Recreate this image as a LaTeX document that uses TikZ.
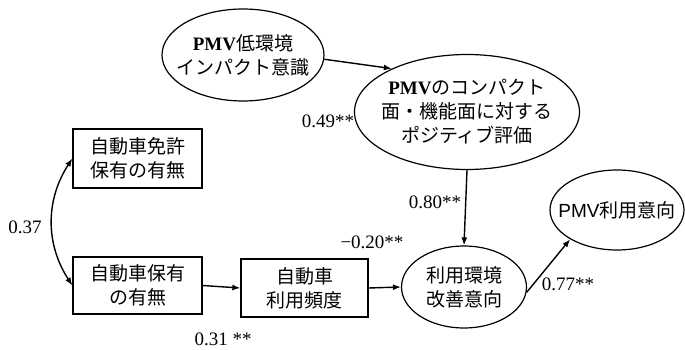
\documentclass[tikz,border=0pt]{standalone}
\usepackage{fontspec}
\setmainfont{Liberation Serif}
\newfontfamily\jp{Noto Sans CJK JP}
\newfontfamily\arialf{Liberation Sans}
\usetikzlibrary{shapes.geometric,arrows.meta}
\begin{document}
\begin{tikzpicture}[x=1pt,y=-1pt,
  every node/.style={font=\fontsize{19}{24}\selectfont},
  box/.style={draw,line width=1.3pt,rectangle,align=center,inner sep=0pt},
  oval/.style={draw,line width=1.2pt,ellipse,align=center,inner ysep=0pt},
  arr/.style={line width=1.4pt,-{Latex[length=8pt,width=6pt]}},
  darr/.style={line width=1.4pt,{Latex[length=8pt,width=6pt]}-{Latex[length=8pt,width=6pt]}},
  lab/.style={inner sep=0pt}]
\useasboundingbox (0,0) rectangle (685,350);
\node[oval,inner xsep=-12pt,minimum width=162pt,minimum height=92pt] (e1) at (243,55)
  {{\bfseries PMV}{\jp 低環境}\\{\jp インパクト意識}};
\node[oval,inner xsep=-10pt,minimum width=225pt,minimum height=115pt] (e2) at (467,112)
  {{\bfseries PMV}{\jp のコンパクト}\\{\jp 面・機能面に対する}\\{\jp ポジティブ評価}};
\node[oval,minimum width=125pt,minimum height=82pt] (e3) at (464,287)
  {{\jp 利用環境}\\{\jp 改善意向}};
\node[oval,inner xsep=-15pt,minimum width=134pt,minimum height=80pt] (e4) at (617,210)
  {{\arialf PMV}{\jp 利用意向}};
\node[box,minimum width=129pt,minimum height=59pt] (b1) at (137.5,158.5)
  {{\jp 自動車免許}\\{\jp 保有の有無}};
\node[box,minimum width=129pt,minimum height=57pt] (b2) at (137.5,285.5)
  {{\jp 自動車保有}\\{\jp の有無}};
\node[box,minimum width=127pt,minimum height=58pt] (b3) at (304.5,288)
  {{\jp 自動車}\\{\jp 利用頻度}};
\draw[arr] (e1.-3) -- (e2.150);
\draw[arr] (e2.south) -- (e3.north);
\draw[arr] (b2.east) -- (b3.west);
\draw[arr] (b3.east) -- (e3.west);
\draw[arr] (e3.-5) -- (e4.212);
\draw[darr] (b1.west) to[bend right=33] (b2.west);
\node[lab] (l49) at (328,121) {0.49**};
\node[lab] (l80) at (435,202) {0.80**};
\node[lab] (l20) at (372,242) {−0.20**};
\node[lab] (l31) at (223,339) {0.31 **};
\node[lab] (l77) at (568,284) {0.77**};
\node[lab] (l37) at (25,227) {0.37};
\end{tikzpicture}
\end{document}
